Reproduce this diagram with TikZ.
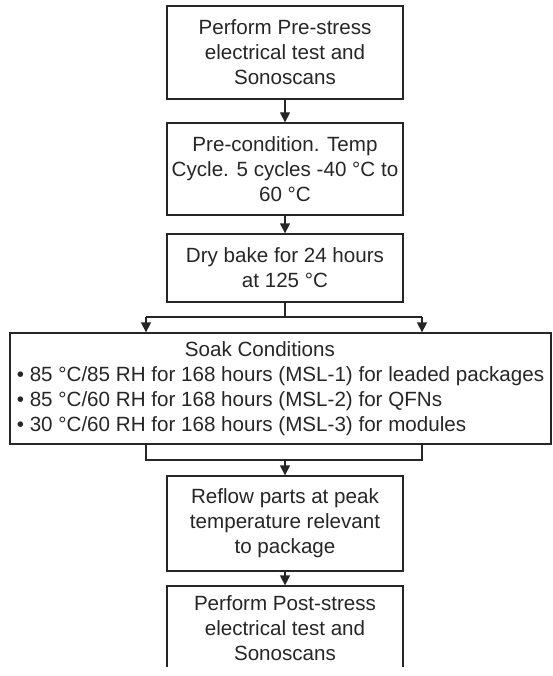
\documentclass[tikz,border=0pt]{standalone}
\usepackage{fontspec}
\setmainfont{Liberation Sans}
\usetikzlibrary{arrows.meta}
\tikzset{
  stepbox/.style={draw, minimum width=236pt, inner sep=0pt, align=center,
    font=\fontsize{20.6}{25}\selectfont},
  flow/.style={-{Triangle[length=10pt,width=10pt]}}
}
\begin{document}
\begin{tikzpicture}[x=1pt,y=-1pt,line width=1.3pt,black!85]
      \useasboundingbox (0,0) rectangle (553,676);
      \node[stepbox, minimum height=93pt] (pre) at (285,52.5)
        {Perform Pre-stress\\electrical test and\\Sonoscans};
      \node[stepbox, minimum height=92pt] (cond) at (285,169)
        {Pre-condition. Temp\\Cycle. 5 cycles -40 °C to\\60 °C};
      \node[stepbox, minimum height=68pt] (bake) at (285,268)
        {Dry bake for 24 hours\\at 125 °C};
      \node[stepbox, minimum width=541pt, minimum height=111pt, align=left] (soak) at (280.5,388.5)
        {\hspace*{168pt}Soak Conditions\\
         • 85 °C/85 RH for 168 hours (MSL-1) for leaded packages\\
         • 85 °C/60 RH for 168 hours (MSL-2) for QFNs\\
         • 30 °C/60 RH for 168 hours (MSL-3) for modules};
      \node[stepbox, minimum height=95pt] (reflow) at (285,523.5)
        {Reflow parts at peak\\temperature relevant\\to package};
      \node[stepbox, draw=none, outer sep=0pt, minimum height=77pt, anchor=north] (post) at (285,590)
        {Perform Post-stress\\electrical test and\\Sonoscans};
      \draw (post.south west) -- ([yshift=4pt]post.north west)
        -- ([yshift=4pt]post.north east) -- (post.south east);
      % split and join
      \coordinate (splitL) at (146,317);
      \coordinate (splitR) at (422,317);
      \coordinate (joinL) at (146,460);
      \coordinate (joinR) at (422,460);
      \begin{scope}[flow]
        \draw (pre) to (cond);
        \draw (cond) to (bake);
        \draw (splitL) to (splitL |- soak.north);
        \draw (splitR) to (splitR |- soak.north);
        \draw (reflow.north |- joinL) to (reflow.north);
        \draw (reflow) to ([yshift=4.6pt]post.north);
      \end{scope}
      \draw (bake.south) |- (splitL);
      \draw (bake.south) |- (splitR);
      \draw (soak.south -| joinL) -- (joinL) -- (joinR) -- (soak.south -| joinR);
    \end{tikzpicture}
\end{document}
